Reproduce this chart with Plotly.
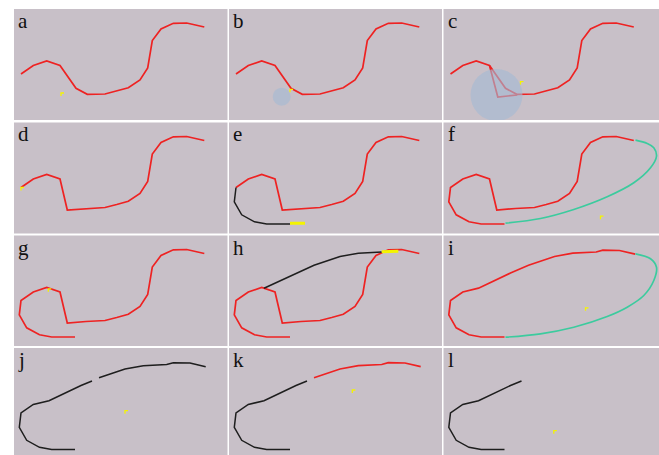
import plotly.graph_objects as go

FIG_W, FIG_H = 659, 455
col_edges = [(14, 227.5), (229, 442), (443.5, 659)]
row_edges = [(9, 120), (122.5, 233.5), (235.5, 346), (348, 455)]
labels = list("abcdefghijkl")

# ---- curve pieces (panel pixel units, y downward) ----
head_x = [7, 19.3, 32.7, 46]
head_y = [65, 56.5, 52, 56.5]
valley_a_x = [62, 73.3]
valley_a_y = [79.3, 85.3]
valley_d_x = [53.3, 72]
valley_d_y = [87.5, 86]
tail_x = [91, 102.7, 114.3, 126, 133.7, 138.3, 147, 159.3, 172.7, 190.3]
tail_y = [85, 82, 78.7, 71, 59, 31.5, 20, 14.3, 14, 18]
branch_c_x = [46, 54.3, 73.7]
branch_c_y = [56.5, 88, 86]
loop_x = [61, 37.7, 25.5, 12.7, 5.3, 7]
loop_y = [101.5, 101.5, 99.3, 92.3, 79.3, 65]
upper_x = [35, 67, 78, 85, 111, 129.3, 152.7, 159.3, 176, 191.7]
upper_y = [52.7, 37.5, 33, 29.7, 21, 17.7, 16.5, 14.7, 15, 18.7]
teal_f_x = [62, 97, 130.3, 163.7, 190.3, 207, 213, 210.3, 203.7, 192]
teal_f_y = [100.7, 96, 87, 74.3, 60.3, 45.3, 33.7, 25.3, 21, 17.7]
teal_i_x = [62, 97, 130.3, 163.7, 183.7, 200.3, 210.3, 213, 207, 192]
teal_i_y = [101.7, 98.3, 91.7, 81, 71.7, 60, 45, 31.7, 23.3, 18.3]
seg_e_x = [61, 76]
seg_e_y = [100.7, 100.7]
seg_h_x = [152.7, 169.3]
seg_h_y = [16.3, 15.7]
# yellow cursor markers per panel
cursor = {"a": (47, 84), "b": (61, 80.3), "c": (77, 72.7), "d": (7, 65),
          "f": (157, 93.7), "g": (34.3, 53.3), "i": (142, 72.3),
          "j": (111, 62.7), "k": (123.3, 42), "l": (110.3, 82.7)}
circles = {"b": (52.7, 87.7, 9), "c": (53, 86, 26)}

RED = "#EE2222"
BLACK = "#1E1E1E"
TEAL = "#3CCB9E"
YELLOW = "#F4F400"
BG = "#C8C0C8"

s_a = (head_x + valley_a_x + tail_x, head_y + valley_a_y + tail_y)
s_d = (head_x + valley_d_x + tail_x, head_y + valley_d_y + tail_y)
loop_s = (loop_x[:-1] + s_d[0], loop_y[:-1] + s_d[1])
loop_up = (loop_x[:-1] + head_x[:2] + upper_x, loop_y[:-1] + head_y[:2] + upper_y)
low_part = (loop_x[:-1] + head_x[:2] + upper_x[:3], loop_y[:-1] + head_y[:2] + upper_y[:3])
high_part = (upper_x[3:], upper_y[3:])

panels = {
    "a": [(s_a, RED, 1.7, "linear")],
    "b": [(s_a, RED, 1.7, "linear")],
    "c": [(s_a, RED, 1.7, "linear"), ((branch_c_x, branch_c_y), RED, 1.7, "linear")],
    "d": [(s_d, RED, 1.7, "linear")],
    "e": [(s_d, RED, 1.7, "linear"), ((loop_x[::-1], loop_y[::-1]), BLACK, 1.5, "linear"),
          ((seg_e_x, seg_e_y), YELLOW, 3, "linear")],
    "f": [(loop_s, RED, 1.7, "linear"), ((teal_f_x, teal_f_y), TEAL, 1.7, "spline")],
    "g": [(loop_s, RED, 1.7, "linear")],
    "h": [(loop_s, RED, 1.7, "linear"), ((upper_x[:7], upper_y[:7]), BLACK, 1.5, "linear"),
          ((seg_h_x, seg_h_y), YELLOW, 3, "linear")],
    "i": [(loop_up, RED, 1.7, "linear"), ((teal_i_x, teal_i_y), TEAL, 1.7, "spline")],
    "j": [(low_part, BLACK, 1.5, "linear"), (high_part, BLACK, 1.5, "linear")],
    "k": [(low_part, BLACK, 1.5, "linear"), (high_part, RED, 1.7, "linear")],
    "l": [(low_part, BLACK, 1.5, "linear")],
}

fig = go.Figure()
shapes = []
annotations = []
for idx, lab in enumerate(labels):
    r, c = divmod(idx, 3)
    n = idx + 1
    xs = "" if n == 1 else str(n)
    x0, x1 = col_edges[c]
    y0, y1 = row_edges[r]
    W, H = x1 - x0, y1 - y0
    fig.update_layout({
        f"xaxis{xs}": dict(domain=[x0 / FIG_W, x1 / FIG_W], range=[0, W], visible=False,
                           anchor=f"y{xs}", fixedrange=True),
        f"yaxis{xs}": dict(domain=[1 - y1 / FIG_H, 1 - y0 / FIG_H], range=[H, 0], visible=False,
                           anchor=f"x{xs}", fixedrange=True),
    })
    for (px, py), col, w, shp in panels[lab]:
        fig.add_trace(go.Scatter(x=px, y=py, mode="lines", xaxis=f"x{xs}", yaxis=f"y{xs}",
                                 line=dict(color=col, width=w, shape=shp, smoothing=1.0),
                                 hoverinfo="skip", showlegend=False))
    if lab in cursor:
        cx, cy = cursor[lab]
        fig.add_trace(go.Scatter(x=[cx, cx, cx + 3], y=[cy + 3, cy, cy], mode="lines",
                                 xaxis=f"x{xs}", yaxis=f"y{xs}",
                                 line=dict(color=YELLOW, width=1.3), hoverinfo="skip",
                                 showlegend=False))
    if lab in circles:
        cx, cy, rad = circles[lab]
        shapes.append(dict(type="circle", xref=f"x{xs}", yref=f"y{xs}",
                           x0=cx - rad, x1=cx + rad, y0=cy - rad, y1=cy + rad,
                           fillcolor="rgba(165,185,212,0.62)", line=dict(width=0),
                           layer="above"))
    annotations.append(dict(text=lab, x=2, y=12, xref=f"x{xs}", yref=f"y{xs}",
                            xanchor="left", yanchor="middle", showarrow=False,
                            font=dict(family="Liberation Serif", size=21, color="#111111")))

fig.update_layout(width=FIG_W, height=FIG_H, margin=dict(l=0, r=0, t=0, b=0),
                  paper_bgcolor="white", plot_bgcolor=BG, shapes=shapes,
                  annotations=annotations, showlegend=False)
fig.write_html("out.html")
